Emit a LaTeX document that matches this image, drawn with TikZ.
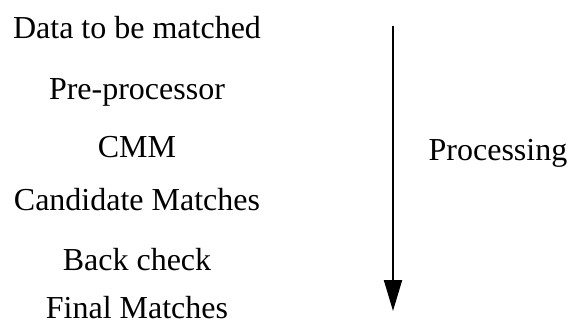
\documentclass[tikz,border=0pt]{standalone}
\usepackage{fontspec}
\setmainfont{Liberation Serif}
\usetikzlibrary{arrows.meta}
\begin{document}
\begin{tikzpicture}[x=1pt,y=-1pt,
  lbl/.style={inner sep=0pt,anchor=base,font=\fontsize{32}{38}\selectfont},
  flow/.style={line width=2pt,-{Triangle[length=31pt,width=18pt]}}]
\useasboundingbox (0,0) rectangle (571,325);
\node[lbl] (data) at (137,38) {Data to be matched};
\node[lbl] (pre) at (137,99) {Pre-processor};
\node[lbl] (cmm) at (137,157) {CMM};
\node[lbl] (cand) at (137,210) {Candidate Matches};
\node[lbl] (back) at (137,270) {Back check};
\node[lbl,text depth=0pt] (final) at (137,318) {Final Matches};
\node[lbl] (proc) at (498,160) {Processing};
\coordinate (top) at (393,26);
\coordinate (bot) at (393,311);
\draw[flow] (top) -- (bot);
\end{tikzpicture}
\end{document}
